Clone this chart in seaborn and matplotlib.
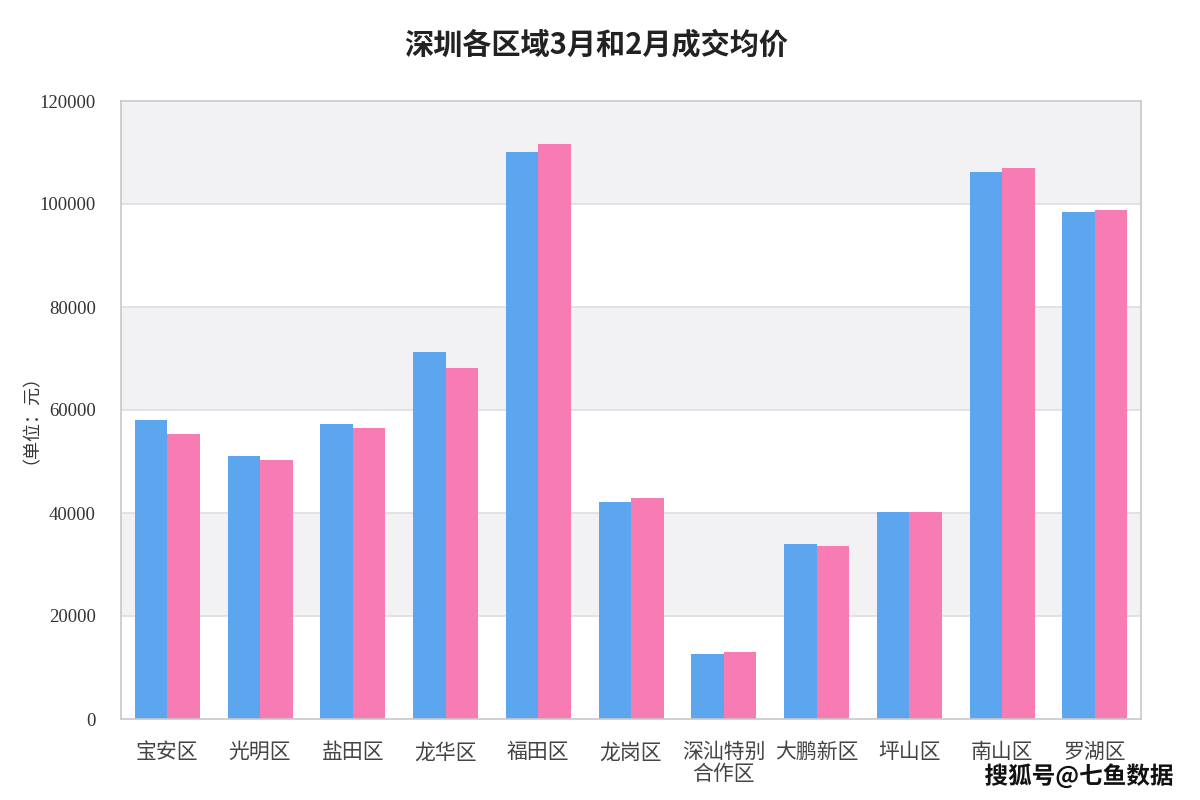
import matplotlib
matplotlib.use("Agg")
import matplotlib.pyplot as plt
import matplotlib.patheffects as pe
import seaborn as sns
import pandas as pd

districts = ["宝安区", "光明区", "盐田区", "龙华区", "福田区", "龙岗区",
             "深汕特别合作区", "大鹏新区", "坪山区", "南山区", "罗湖区"]
series_names = ["3月", "2月"]
march = [58060, 51070, 57280, 71260, 110100, 42140, 12600, 33980, 40190, 106200, 98450]
feb = [55280, 50290, 56500, 68100, 111650, 42900, 12950, 33590, 40190, 106990, 98800]
yticks = [0, 20000, 40000, 60000, 80000, 100000, 120000]

df = pd.DataFrame({
    "district": districts * 2,
    "series": [series_names[0]] * len(districts) + [series_names[1]] * len(districts),
    "value": march + feb,
})

sns.set_theme(style="white")
plt.rcParams['font.family'] = ['Noto Sans CJK SC', 'DejaVu Sans']

fig = plt.figure(figsize=(12, 8), dpi=100)
ax = fig.add_axes([0.1008, 0.10125, 0.8502, 0.7725])

# alternating bands
for i in range(len(yticks) - 1):
    if i % 2 == 1:
        ax.axhspan(yticks[i], yticks[i + 1], color="#F2F1F3", zorder=0, lw=0)
for y in yticks[1:-1]:
    ax.axhline(y, color="#DEDEDE", lw=1.2, zorder=0.5)

sns.barplot(data=df, x="district", y="value", hue="series",
            palette=["#5CA6F0", "#F77CB3"], width=0.7, gap=0,
            saturation=1, ax=ax, legend=False, zorder=2, linewidth=0)

def wrap_label(s):
    return s[:4] + "\n" + s[4:] if len(s) > 5 else s

ax.set_xlim(-0.5, len(districts) - 0.5)
ax.set_ylim(0, 120000)
ax.set_yticks(yticks)
ax.set_yticklabels([str(v) for v in yticks], fontsize=13.5, color="#333333",
                   family=['Liberation Serif', 'DejaVu Serif'])
ax.set_xticks(range(len(districts)))
ax.set_xticklabels([wrap_label(d) for d in districts], fontsize=15,
                   color="#444444", fontweight="light", va="top",
                   linespacing=1.0)
ax.tick_params(axis="x", length=0, pad=16)
ax.tick_params(axis="y", length=0, pad=18)
ax.set_xlabel("")
ax.set_ylabel("")
for s in ax.spines.values():
    s.set_color("#C8C8C8")
    s.set_linewidth(1.2)

fig.text(0.497, 0.944, "深圳各区域3月和2月成交均价", ha="center", va="center",
         fontsize=21, fontweight="bold", color="#222222")
fig.text(0.018, 0.487, "（单位：元）", rotation=90, ha="center", va="center",
         fontsize=13, color="#333333")
fig.text(0.978, 0.030, "搜狐号@七鱼数据", ha="right", va="center",
         fontsize=17, fontweight="bold", color="#111111",
         path_effects=[pe.withStroke(linewidth=3, foreground="white")])

fig.savefig("out.png", dpi=100, facecolor="white")
